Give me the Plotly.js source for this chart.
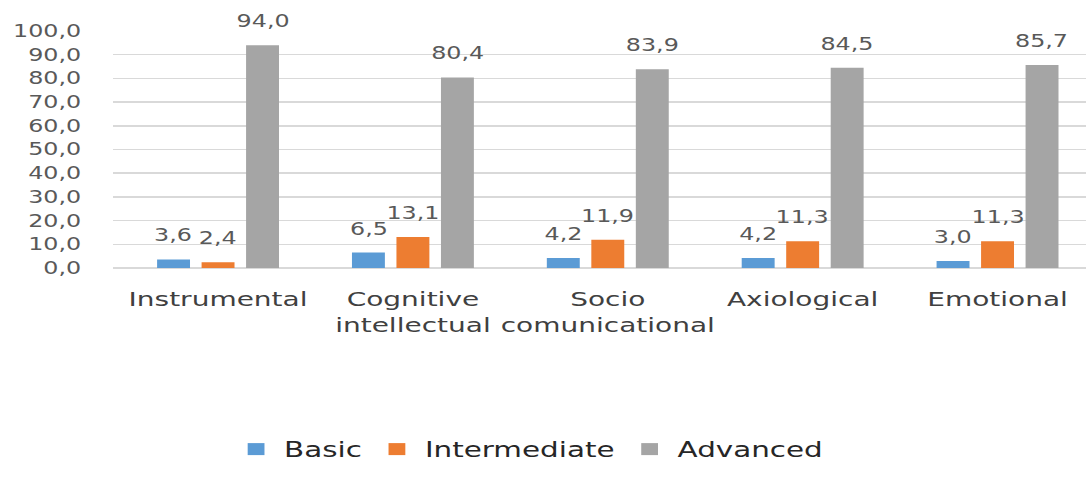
<!DOCTYPE html>
<html>
<head>
<meta charset="utf-8">
<script src="https://cdn.plot.ly/plotly-3.0.1.min.js"></script>
<style>
html,body{margin:0;padding:0;background:#fff;overflow:hidden;}
#chart{width:776px;height:487px;transform:scaleX(1.4);transform-origin:0 0;}
</style>
</head>
<body>
<div id="chart"></div>
<script>
const categories = ["Instrumental", "Cognitive<br>intellectual", "Socio<br>comunicational", "Axiological", "Emotional"];
const seriesNames = ["Basic", "Intermediate", "Advanced"];
const basic = [3.6, 6.5, 4.2, 4.2, 3.0];
const intermediate = [2.4, 13.1, 11.9, 11.3, 11.3];
const advanced = [94.0, 80.4, 83.9, 84.5, 85.7];
const colors = ["#5b9bd5", "#ed7d31", "#a5a5a5"];
const yTicks = [0, 10, 20, 30, 40, 50, 60, 70, 80, 90, 100];

const seriesValues = [basic, intermediate, advanced];
const FONT = "DejaVu Sans, Verdana, sans-serif";

const traces = seriesValues.map((vals, i) => ({
  type: "bar",
  name: seriesNames[i],
  x: categories,
  y: vals,
  marker: {color: colors[i]},
  hoverinfo: "none"
}));

// data labels, built from the same arrays
const slot = 31.8;
const annotations = [];
seriesValues.forEach((vals, i) => {
  vals.forEach((v, k) => {
    annotations.push({
      x: categories[k], y: v, xref: "x", yref: "y",
      text: v.toFixed(1).replace(".", ","),
      showarrow: false, yshift: 24, xshift: (i - 1) * slot,
      font: {family: FONT, size: 17, color: "#595959"}
    });
  });
});

const layout = {
  width: 776, height: 487,
  margin: {l: 81, r: 0, t: 31, b: 219},
  paper_bgcolor: "#fff", plot_bgcolor: "#fff",
  separators: ",.",
  barmode: "group",
  bargap: 0.315,
  bargroupgap: 0.26,
  showlegend: true,
  legend: {
    orientation: "h", xref: "container", yref: "container",
    x: 0.487, xanchor: "center", y: 0.035, yanchor: "bottom",
    font: {family: FONT, size: 21, color: "#262626"},
    itemwidth: 30, traceorder: "normal"
  },
  xaxis: {
    type: "category",
    range: [-0.537, 4.456],
    showgrid: false, zeroline: false, showline: false,
    ticks: "", ticklabelstandoff: 17, tickangle: 0,
    tickfont: {family: FONT, size: 20, color: "#404040"},
    fixedrange: true
  },
  yaxis: {
    range: [0, 100],
    tickvals: yTicks,
    tickformat: ".1f",
    showgrid: true, gridcolor: "#d9d9d9", gridwidth: 1.5,
    zeroline: true, zerolinecolor: "#d9d9d9", zerolinewidth: 1.5,
    showline: false, ticks: "",
    ticklabelstandoff: 22,
    tickfont: {family: FONT, size: 17, color: "#595959"},
    fixedrange: true
  },
  annotations: annotations
};

Plotly.newPlot("chart", traces, layout, {staticPlot: true, displayModeBar: false});
</script>
</body>
</html>
